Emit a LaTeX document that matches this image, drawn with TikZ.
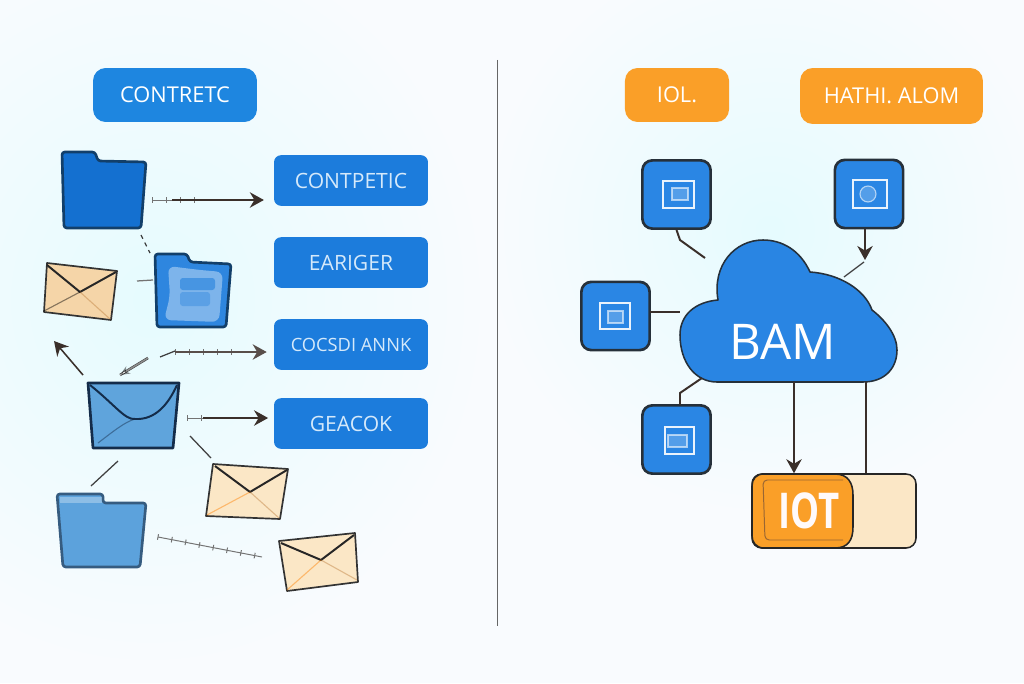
\documentclass[tikz,border=0pt]{standalone}
\usepackage{fontspec}
\usepackage{xcolor}
\setmainfont{Open Sans}
\usetikzlibrary{arrows.meta,decorations.pathreplacing,fadings}
\definecolor{pagebg}{HTML}{F9FBFE}
\definecolor{glow}{HTML}{E6FBFE}
\definecolor{boxblue}{HTML}{1C7CDC}
\definecolor{pillblue}{HTML}{1E86E0}
\definecolor{folderblue}{HTML}{1470D0}
\definecolor{squareblue}{HTML}{2A86E4}
\definecolor{pillorange}{HTML}{FA9F28}
\definecolor{darkline}{HTML}{3A2F2A}
\definecolor{darkblue}{HTML}{123F6A}
\definecolor{navy}{HTML}{142C4A}
\definecolor{paleblue}{HTML}{5FA4DC}
\definecolor{labelblue}{HTML}{D5E9FA}
\definecolor{sand}{HTML}{F5D5A8}
\definecolor{cream}{HTML}{FBE7C6}
\definecolor{squareline}{HTML}{26303A}
\tikzfading[name=softglow,inner color=transparent!0,outer color=transparent!100]
\begin{document}
\begin{tikzpicture}[x=0.025cm,y=-0.025cm]
	 \tikzstyle{top pill}=[minimum height=38.4pt,rounded corners=9pt,text=white,font=\fontsize{15.5}{18}\selectfont,inner sep=0pt]
	 \tikzstyle{side box}=[minimum width=109.5pt,minimum height=36pt,rounded corners=5pt,fill=boxblue,text=labelblue,font=\fontsize{15}{18}\selectfont,inner sep=0pt]
	 \tikzstyle{square}=[minimum size=48.5pt,rounded corners=7pt,fill=squareblue,draw=squareline,line width=1.9pt,inner sep=0pt]
	 \tikzstyle{square icon}=[draw=white,line width=0.8pt,draw opacity=0.9]
	 \tikzstyle{square inner}=[square icon,fill=white,fill opacity=0.2,draw opacity=0.6]
	 \tikzstyle{folder}=[line width=1.9pt,rounded corners=2pt,line join=round]
	 \tikzstyle{envelope}=[line width=1.2pt,draw=black!80,line join=round]
	 \tikzstyle{flap}=[line width=1.4pt,draw=black!85]
	 \tikzstyle{ghost}=[line width=0.8pt,opacity=0.45]
	 \tikzstyle{link}=[draw=darkline,line width=1.1pt]
	 \tikzstyle{arrow}=[link,-{Stealth[length=10pt,width=11pt]}]
	 \tikzstyle{stub}=[draw=black!75,line width=0.9pt]
	 \tikzstyle{hatched}=[draw=black!55,line width=0.7pt,postaction={draw,decorate,decoration={ticks,segment length=10pt,amplitude=2pt}}]
	 \clip (0,0) rectangle (1024,683);
	 \fill[pagebg] (0,0) rectangle (1024,683);
	 \fill[glow,path fading=softglow,fit fading=true] (150,300) ellipse (330 and 360);
	 \fill[glow,path fading=softglow,fit fading=true] (770,230) ellipse (280 and 280);
	 \draw[draw=black!60,line width=0.7pt] (497,60) -- (497,626);
	 \node[top pill,fill=pillblue,minimum width=116.6pt] (title) at (175,95) {CONTRETC};
	 \node[top pill,fill=pillorange,minimum width=74pt] (iol) at (677,95) {IOL.};
	 \node[top pill,fill=pillorange,minimum width=130pt,minimum height=39.8pt] (hathi) at (891.5,96) {HATHI. ALOM};
	 \node[side box] (b1) at (351,180.5) {CONTPETIC};
	 \node[side box] (b2) at (351,262.5) {EARIGER};
	 \node[side box,font=\fontsize{13}{16}\selectfont] (b3) at (351,344.5) {COCSDI ANNK};
	 \node[side box] (b4) at (351,423.5) {GEACOK};
	 \draw[folder,fill=folderblue,draw=darkblue] (62,152) -- (95,152) -- (98,161) -- (146,162) -- (141,228) -- (64,228) -- cycle;
	 \draw[folder,fill=boxblue!92!white,draw=darkblue] (155,254) -- (187,254) -- (190,262) -- (231,264) -- (226,327) -- (157,327) -- cycle;
	 \fill[white,opacity=0.38,rounded corners=5pt] (168,266) -- (200,270) -- (223,272) -- (219,322) -- (164,320) -- (170,296) -- cycle;
	 \fill[boxblue,opacity=0.55,rounded corners=2pt] (180,278) rectangle (215,290);
	 \fill[boxblue,opacity=0.35,rounded corners=2pt] (180,292) rectangle (210,306);
	 \draw[folder,fill=paleblue!95!boxblue,draw=darkblue!85!white] (57,494) -- (103,494) -- (103,503) -- (146,503) -- (140,567) -- (63,567) -- cycle;
	 \fill[white,opacity=0.3] (60,497) rectangle (102,503);
	 \draw[envelope,fill=sand] (47,263) -- (117,271) -- (111,320) -- (44,312) -- cycle;
	 \draw[flap] (47,265) -- (80,292) -- (116,272);
	 \draw[ghost,draw=black] (44,311) -- (80,292);
	 \draw[ghost,draw=brown] (80,292) -- (110,319);
	 \draw[envelope,fill=paleblue,draw=navy,line width=1.9pt] (88,383) -- (179,383) -- (173,448) -- (93,448) -- cycle;
	 \draw[flap,draw=navy] (90,385) .. controls (115,405) and (125,420) .. (135,419) .. controls (155,420) and (168,405) .. (177,385);
	 \draw[ghost,draw=navy] (98,443) .. controls (115,430) and (125,422) .. (135,419);
	 \draw[envelope,fill=cream] (213,464) -- (288,469) -- (280,519) -- (206,516) -- cycle;
	 \draw[flap] (215,466) -- (250,492) -- (287,470);
	 \draw[ghost,draw=orange] (207,515) -- (250,492);
	 \draw[ghost,draw=brown] (250,492) -- (279,518);
	 \draw[envelope,fill=cream] (279,541) -- (355,533) -- (358,582) -- (287,591) -- cycle;
	 \draw[flap] (281,543) -- (321,560) -- (354,535);
	 \draw[ghost,draw=orange] (287,590) -- (321,560);
	 \draw[ghost,draw=brown] (321,560) -- (357,580);
	 \coordinate (f1r) at (172,200);
	 \coordinate (f1g) at (152,200);
	 \coordinate (f1t) at (200,200);
	 \coordinate (f1a) at (141,235);
	 \coordinate (f2a) at (150,253);
	 \coordinate (e1r) at (137,281);
	 \coordinate (f2l) at (153,280);
	 \coordinate (e2a) at (83,375);
	 \coordinate (e2b) at (54,341);
	 \coordinate (e2c) at (120,375);
	 \coordinate (e2d) at (148,358);
	 \coordinate (e2e) at (160,357);
	 \coordinate (e2f) at (175,351);
	 \coordinate (e2g) at (175,352);
	 \coordinate (e2t) at (235,352);
	 \coordinate (e2h) at (187,418);
	 \coordinate (e2k) at (203,418);
	 \coordinate (e2i) at (190,436);
	 \coordinate (e3a) at (211,458);
	 \coordinate (e2j) at (118,461);
	 \coordinate (f3a) at (91,486);
	 \coordinate (f3b) at (158,537);
	 \coordinate (e4a) at (262,557);
	 \draw[hatched] (f1g) -- (f1t);
	 \draw[arrow,shorten >=7pt] (f1r) -- (b1.west |- f1r);
	 \draw[stub,dashed] (f1a) -- (f2a);
	 \draw[stub,draw=black!55] (e1r) -- (f2l);
	 \draw[arrow] (e2a) -- (e2b);
	 \draw[stub,double,double distance=0.8pt,line width=0.5pt] (e2c) -- (e2d);
	 \draw[ghost,-{Stealth[length=7pt,width=6pt,open]}] (e2d) -- (e2c);
	 \draw[stub] (e2e) -- (e2f);
	 \draw[hatched] (e2g) -- (e2t);
	 \draw[arrow,draw=darkline!85,shorten >=5pt] (e2g) -- (b3.west |- e2g);
	 \draw[hatched] (e2h) -- (e2k);
	 \draw[arrow,shorten >=4pt] (e2k) -- (b4.west |- e2k);
	 \draw[stub] (e2i) -- (e3a);
	 \draw[stub] (e2j) -- (f3a);
	 \draw[hatched] (f3b) -- (e4a);
	 \node[square] (s1) at (676.5,194.5) {};
	 \node[square] (s2) at (869,194) {};
	 \node[square] (s3) at (615.5,316) {};
	 \node[square] (s4) at (676.5,439.5) {};
	 \draw[square icon] (663,181) rectangle (694,208);
	 \draw[square inner] (672,188) rectangle (688,200);
	 \draw[square icon] (853,180) rectangle (887,208);
	 \draw[square inner] (868,194) circle (8);
	 \draw[square icon] (600,303) rectangle (630,329);
	 \draw[square inner] (608,311) rectangle (623,323);
	 \draw[square icon] (665,427) rectangle (694,454);
	 \draw[square inner] (668,435) rectangle (687,447);
	 \draw[fill=squareblue!90!boxblue,draw=squareline,line width=1.1pt,line join=round] (717,382) -- (863,382) .. controls (885,382) and (897,368) .. (897,350) .. controls (897,335) and (885,320) .. (872,310) .. controls (865,290) and (840,274) .. (810,272) .. controls (800,250) and (782,240) .. (763,240) .. controls (735,240) and (712,265) .. (718,300) .. controls (695,302) and (680,315) .. (680,335) .. controls (680,362) and (695,382) .. (717,382) -- cycle;
	 \node[text=white,inner sep=0pt,font=\fontsize{35}{38}\selectfont] (cloud) at (783,342) {BAM};
	 \coordinate (s1b) at (680,240);
	 \coordinate (s1c) at (705,258);
	 \coordinate (s2b) at (865,229);
	 \coordinate (s2c) at (865,260);
	 \coordinate (s2d) at (864,262);
	 \coordinate (cl1) at (844,277);
	 \coordinate (s3r) at (650,312);
	 \coordinate (cl2) at (680,312);
	 \coordinate (s4t) at (680,405);
	 \coordinate (s4b) at (680,393);
	 \coordinate (cl3) at (702,378);
	 \coordinate (cl4) at (794,382);
	 \coordinate (cl5) at (866,382);
	 \node[minimum width=116.6pt,minimum height=52.6pt,rounded corners=7pt,fill=cream,draw=black!85,line width=1.1pt,inner sep=0pt] (out) at (834,511) {};
	 \draw[fill=pillorange,draw=black!85,line width=1.1pt] (764,474) -- (835,474) .. controls (848,474) and (853,483) .. (853,495) -- (853,527) .. controls (853,540) and (848,548) .. (835,548) -- (764,548) .. controls (756,548) and (752,542) .. (752,536) -- (752,486) .. controls (752,479) and (756,474) .. (764,474) -- cycle;
	 \draw[draw=brown!80!black,line width=0.7pt,rounded corners=3pt] (843,480) -- (763,480) -- (765,540) -- (843,540);
	 \node[text=white!92!pink,inner sep=0pt,font=\fontsize{26}{30}\selectfont\bfseries,yscale=1.35,transform shape] (iot) at (809,511) {IOT};
	 \draw[link,line width=1.4pt] (s1.south) -- (s1b) -- (s1c);
	 \draw[arrow,line width=1.4pt] (s2b) -- (s2c);
	 \draw[stub] (s2d) -- (cl1);
	 \draw[link] (s3r) -- (cl2);
	 \draw[link,line width=1.4pt] (s4t) -- (s4b) -- (cl3);
	 \draw[arrow] (cl4) -- (cl4 |- out.north);
	 \draw[link,line width=1.4pt] (cl5) -- (cl5 |- out.north);
\end{tikzpicture}
\end{document}
